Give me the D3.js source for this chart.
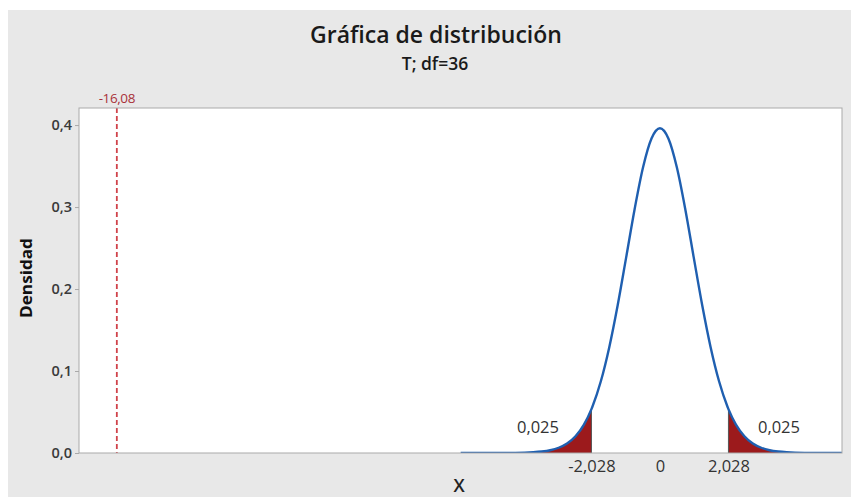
<!DOCTYPE html>
<html>
<head>
<meta charset="utf-8">
<script src="https://cdn.jsdelivr.net/npm/d3@7"></script>
<style>
  html, body { margin: 0; padding: 0; background: #ffffff; }
  svg { display: block; font-family: "Open Sans", "Noto Sans", sans-serif; }
</style>
</head>
<body>
<svg id="chart" width="851" height="497"></svg>
<script>
// ---- data ----
const tValues = [-5.9, -5, -4.5, -4, -3.75, -3.5, -3.25, -3, -2.75, -2.5, -2.25, -2.028, -2, -1.75, -1.5, -1.25, -1, -0.75, -0.5, -0.25,
                 0, 0.25, 0.5, 0.75, 1, 1.25, 1.5, 1.75, 2, 2.028, 2.25, 2.5, 2.75, 3, 3.25, 3.5, 3.75, 4, 4.5, 5, 5.9];
const densities = [0, 0.0000, 0.0001, 0.0004, 0.0009, 0.0018, 0.0034, 0.0064, 0.0116, 0.0205, 0.0347, 0.0535, 0.0564, 0.0875, 0.1291, 0.1805, 0.2386, 0.2974, 0.3485, 0.3836,
                   0.3961, 0.3836, 0.3485, 0.2974, 0.2386, 0.1805, 0.1291, 0.0875, 0.0564, 0.0535, 0.0347, 0.0205, 0.0116, 0.0064, 0.0034, 0.0018, 0.0009, 0.0004, 0.0001, 0.0000, 0];
const criticalValues = [-2.028, 2.028];
const tailAreaLabels = ["0,025", "0,025"];
const xTickValues = [-2.028, 0, 2.028];
const xTickLabels = ["-2,028", "0", "2,028"];
const yTickValues = [0, 0.1, 0.2, 0.3, 0.4];
const yTickLabels = ["0,0", "0,1", "0,2", "0,3", "0,4"];
const referenceValue = -16.08;
const referenceLabel = "-16,08";
const xDomain = [-17.2, 5.39];
const yDomain = [0, 0.4208];
const titleText = "Gráfica de distribución";
const subtitleText = "T; df=36";
const xLabel = "X";
const yLabel = "Densidad";

// ---- layout ----
const svg = d3.select("#chart");
const W = 851, H = 497;
const plot = { left: 79, top: 108, right: 842, bottom: 453 };

svg.append("rect").attr("x", 8).attr("y", 10).attr("width", W - 8).attr("height", H - 10).attr("fill", "#e8e8e8");

const x = d3.scaleLinear().domain(xDomain).range([plot.left, plot.right]);
const y = d3.scaleLinear().domain(yDomain).range([plot.bottom, plot.top]);

svg.append("rect").attr("x", plot.left).attr("y", plot.top)
  .attr("width", plot.right - plot.left).attr("height", plot.bottom - plot.top)
  .attr("fill", "#ffffff");

svg.append("defs").append("clipPath").attr("id", "clip")
  .append("rect").attr("x", plot.left).attr("y", plot.top)
  .attr("width", plot.right - plot.left).attr("height", plot.bottom - plot.top);

const pts = tValues.map((t, i) => ({ t, d: densities[i] }));
const g = svg.append("g").attr("clip-path", "url(#clip)");

// tail areas
const area = d3.area().x(p => x(p.t)).y0(y(0)).y1(p => y(p.d)).curve(d3.curveMonotoneX);
g.append("path").datum(pts.filter(p => p.t <= criticalValues[0]))
  .attr("d", area).attr("fill", "#9c1a1c");
g.append("path").datum(pts.filter(p => p.t >= criticalValues[1]))
  .attr("d", area).attr("fill", "#9c1a1c");

// dividing lines at critical values
criticalValues.forEach((c) => {
  const dd = densities[tValues.indexOf(c)];
  g.append("line").attr("x1", x(c)).attr("x2", x(c)).attr("y1", y(0)).attr("y2", y(dd))
    .attr("stroke", "#555").attr("stroke-width", 1);
});

// curve
const line = d3.line().x(p => x(p.t)).y(p => y(p.d)).curve(d3.curveMonotoneX);
g.append("path").datum(pts).attr("d", line)
  .attr("fill", "none").attr("stroke", "#1f5fb0").attr("stroke-width", 2.4);

// reference dashed line
g.append("line").attr("x1", x(referenceValue)).attr("x2", x(referenceValue))
  .attr("y1", plot.top).attr("y2", plot.bottom)
  .attr("stroke", "#d0434a").attr("stroke-width", 1.8).attr("stroke-dasharray", "5,3");
svg.append("text").attr("x", x(referenceValue)).attr("y", 103)
  .attr("text-anchor", "middle").attr("font-size", 13.5).attr("fill", "#a8323a")
  .attr("letter-spacing", -0.4)
  .text(referenceLabel);

// plot border
svg.append("rect").attr("x", plot.left).attr("y", plot.top)
  .attr("width", plot.right - plot.left).attr("height", plot.bottom - plot.top)
  .attr("fill", "none").attr("stroke", "#a9a9a9").attr("stroke-width", 1);

// y axis
const yAxis = d3.axisLeft(y).tickValues(yTickValues).tickSize(4).tickPadding(3)
  .tickFormat((d, i) => yTickLabels[i]);
const ya = svg.append("g").attr("transform", `translate(${plot.left},0)`).call(yAxis);
ya.select(".domain").remove();
ya.selectAll(".tick line").attr("stroke", "#a9a9a9");
ya.selectAll(".tick text").attr("font-size", 14.5).attr("font-weight", 600)
  .attr("fill", "#3a3a3a").attr("font-family", "'Open Sans', sans-serif");

// x axis
const xAxis = d3.axisBottom(x).tickValues(xTickValues).tickSize(0).tickPadding(7)
  .tickFormat((d, i) => xTickLabels[i]);
const xa = svg.append("g").attr("transform", `translate(0,${plot.bottom})`).call(xAxis);
xa.select(".domain").remove();
xa.selectAll(".tick text").attr("font-size", 16.5)
  .attr("fill", "#333").attr("font-family", "'Open Sans', sans-serif");

// tail area labels
svg.append("text").attr("x", 538).attr("y", 433).attr("text-anchor", "middle")
  .attr("font-size", 16.5).attr("fill", "#333").text(tailAreaLabels[0]);
svg.append("text").attr("x", 779).attr("y", 433).attr("text-anchor", "middle")
  .attr("font-size", 16.5).attr("fill", "#333").text(tailAreaLabels[1]);

// axis labels
svg.append("text").attr("x", 459).attr("y", 492).attr("text-anchor", "middle")
  .attr("font-size", 18).attr("font-weight", 600).attr("fill", "#222").text(xLabel);
svg.append("text").attr("transform", "translate(32,278) rotate(-90)")
  .attr("text-anchor", "middle").attr("font-size", 16.5).attr("font-weight", 700)
  .attr("textLength", 80).attr("lengthAdjust", "spacingAndGlyphs")
  .attr("fill", "#111").text(yLabel);

// titles
svg.append("text").attr("x", 436).attr("y", 43).attr("text-anchor", "middle")
  .attr("font-size", 23).attr("font-weight", 600).attr("fill", "#1a1a1a").text(titleText);
svg.append("text").attr("x", 435).attr("y", 70).attr("text-anchor", "middle")
  .attr("font-size", 17.5).attr("font-weight", 600).attr("fill", "#1a1a1a").text(subtitleText);
</script>
</body>
</html>
